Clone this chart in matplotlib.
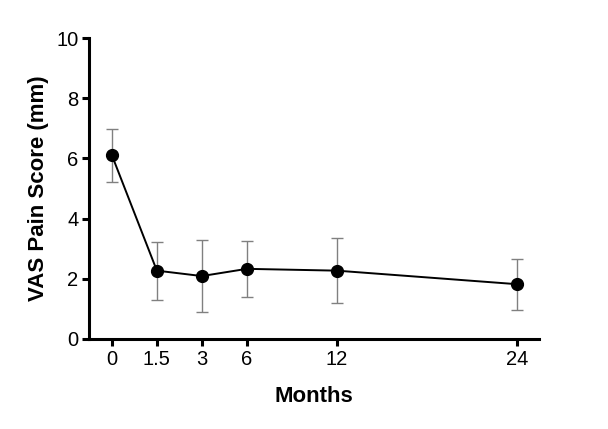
import matplotlib
matplotlib.use('Agg')
import matplotlib.pyplot as plt
import numpy as np

plt.rcParams['font.family'] = ['Liberation Sans', 'DejaVu Sans']

# data
months = ['0', '1.5', '3', '6', '12', '24']
vas_mean = [6.11, 2.27, 2.09, 2.33, 2.27, 1.82]
vas_sd = [0.88, 0.96, 1.21, 0.93, 1.07, 0.85]

# the x axis is drawn on a broken scale: 0..6 evenly, then 12 and 24 stretched
x_pos = np.array([0, 1, 2, 3, 5, 9])

fig = plt.figure(figsize=(6.08, 4.29), dpi=100)
ax = fig.add_axes([0.147, 0.21, 0.74, 0.701])

ax.errorbar(x_pos, vas_mean, yerr=vas_sd, fmt='none', ecolor='#808080',
            elinewidth=1.0, capsize=4, capthick=1.0, zorder=2)
ax.plot(x_pos, vas_mean, color='black', lw=1.4, marker='o', ms=8.5,
        mfc='black', mec='black', zorder=3)

ax.set_xlim(-0.5, 9.5)
ax.set_ylim(0, 10)
ax.set_xticks(x_pos)
ax.set_xticklabels(months)
ax.set_yticks([0, 2, 4, 6, 8, 10])

for side in ['top', 'right']:
    ax.spines[side].set_visible(False)
for side in ['left', 'bottom']:
    ax.spines[side].set_linewidth(2.2)
ax.tick_params(axis='both', width=2.2, length=5, labelsize=14.5, pad=3)

ax.set_xlabel('Months', fontsize=16, fontweight='bold', labelpad=12)
ax.set_ylabel('VAS Pain Score (mm)', fontsize=16, fontweight='bold', labelpad=5)

fig.savefig('out.png', dpi=100)
